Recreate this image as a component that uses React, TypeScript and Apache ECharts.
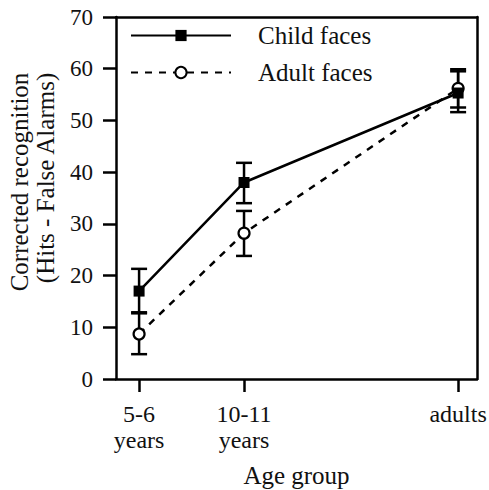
import React, { useEffect, useRef } from "react";
import * as echarts from "echarts";

const groupLabels = ["5-6\nyears", "10-11\nyears", "adults"];
const groupPositions = [0, 1, 3.04];

const childMeans = [17.0, 38.0, 55.3];
const childLower = [12.9, 34.0, 51.6];
const childUpper = [21.3, 41.8, 59.9];

const adultMeans = [8.7, 28.2, 56.2];
const adultLower = [4.8, 23.8, 52.5];
const adultUpper = [12.7, 32.5, 59.5];

const yMin = 0;
const yMax = 70;
const yInterval = 10;

const FONT = "'Liberation Serif'";

function errorSeries(name: string, lower: number[], upper: number[]) {
  return {
    type: "custom",
    name: name + " error",
    z: 1,
    silent: true,
    data: groupPositions.map((x, i) => [x, lower[i], upper[i]]),
    encode: { x: 0, y: [1, 2] },
    renderItem: (params: any, api: any) => {
      const x = api.value(0);
      const lo = api.coord([x, api.value(1)]);
      const hi = api.coord([x, api.value(2)]);
      const half = 8;
      const style = { stroke: "#000", lineWidth: 2.5 };
      return {
        type: "group",
        children: [
          { type: "line", shape: { x1: lo[0], y1: lo[1], x2: hi[0], y2: hi[1] }, style },
          { type: "line", shape: { x1: hi[0] - half, y1: hi[1], x2: hi[0] + half, y2: hi[1] }, style },
          { type: "line", shape: { x1: lo[0] - half, y1: lo[1], x2: lo[0] + half, y2: lo[1] }, style },
        ],
      };
    },
  };
}

export default function App() {
  const ref = useRef<HTMLDivElement>(null);
  useEffect(() => {
    if (!ref.current) return;
    const chart = echarts.init(ref.current, null, { renderer: "svg" });
    const labelFor = (v: number) => {
      const i = groupPositions.findIndex((p) => Math.abs(p - v) < 1e-6);
      return i >= 0 ? groupLabels[i] : "";
    };
    const frameAxisLine = { show: true, onZero: false, lineStyle: { color: "#000", width: 2.5 } };
    chart.setOption({
      animation: false,
      backgroundColor: "#fff",
      grid: {
        left: 116,
        right: 12,
        top: 17,
        bottom: 111,
        containLabel: false,
        outerBoundsMode: "none",
      },
      legend: {
        orient: "vertical",
        left: 125,
        top: 18,
        itemWidth: 100,
        itemHeight: 14,
        itemGap: 12,
        data: ["Child faces", "Adult faces"],
        textStyle: {
          fontFamily: FONT,
          fontSize: 25,
          color: "#111",
          padding: [4, 0, 0, 22],
        },
      },
      xAxis: [
        {
          type: "value",
          min: -0.22,
          max: 3.22,
          splitLine: { show: false },
          axisLine: frameAxisLine,
          axisTick: {
            show: true,
            inside: false,
            length: 13,
            customValues: groupPositions,
            lineStyle: { color: "#000", width: 2.5 },
          },
          axisLabel: {
            customValues: groupPositions,
            formatter: (v: number) => labelFor(v),
            margin: 22,
            fontFamily: FONT,
            fontSize: 24,
            lineHeight: 26,
            color: "#111",
            verticalAlign: "top",
          },
          name: "Age group",
          nameLocation: "middle",
          nameGap: 84,
          nameTextStyle: { fontFamily: FONT, fontSize: 25, color: "#111" },
        },
        {
          type: "value",
          position: "top",
          min: -0.22,
          max: 3.22,
          splitLine: { show: false },
          axisLine: frameAxisLine,
          axisTick: { show: false },
          axisLabel: { show: false },
        },
      ],
      yAxis: [
        {
          type: "value",
          min: yMin,
          max: yMax,
          interval: yInterval,
          splitLine: { show: false },
          axisLine: frameAxisLine,
          axisTick: { show: true, inside: false, length: 13, lineStyle: { color: "#000", width: 2.5 } },
          axisLabel: { margin: 23, fontFamily: FONT, fontSize: 23, color: "#111" },
        },
        {
          type: "value",
          position: "right",
          min: yMin,
          max: yMax,
          interval: yInterval,
          splitLine: { show: false },
          axisLine: frameAxisLine,
          axisTick: { show: false },
          axisLabel: { show: false },
        },
      ],
      graphic: [
        {
          type: "text",
          x: 19,
          y: 182,
          rotation: Math.PI / 2,
          style: {
            text: "Corrected recognition",
            align: "center",
            verticalAlign: "middle",
            fontFamily: FONT,
            fontSize: 25,
            fill: "#111",
          },
        },
        {
          type: "text",
          x: 45,
          y: 178,
          rotation: Math.PI / 2,
          style: {
            text: "(Hits - False Alarms)",
            align: "center",
            verticalAlign: "middle",
            fontFamily: FONT,
            fontSize: 25,
            fill: "#111",
          },
        },
      ],
      series: [
        errorSeries("Adult faces", adultLower, adultUpper),
        errorSeries("Child faces", childLower, childUpper),
        {
          type: "line",
          name: "Adult faces",
          z: 3,
          data: groupPositions.map((x, i) => [x, adultMeans[i]]),
          symbol: "circle",
          symbolSize: 11,
          showAllSymbol: true,
          lineStyle: { color: "#000", width: 2.5, type: [7, 7] },
          itemStyle: { color: "#fff", borderColor: "#000", borderWidth: 2.2 },
        },
        {
          type: "line",
          name: "Child faces",
          z: 4,
          data: groupPositions.map((x, i) => [x, childMeans[i]]),
          symbol: "rect",
          symbolSize: 11,
          showAllSymbol: true,
          lineStyle: { color: "#000", width: 2.5 },
          itemStyle: { color: "#000", borderColor: "#000", borderWidth: 0 },
        },
      ],
    });
    return () => chart.dispose();
  }, []);
  return (
    <div
      ref={ref}
      style={{ position: "fixed", left: 0, top: 0, width: 489, height: 490, background: "#fff" }}
    />
  );
}
